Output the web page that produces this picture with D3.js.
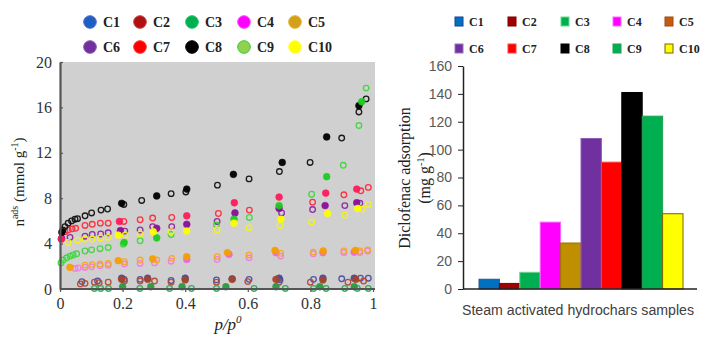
<!DOCTYPE html>
<html>
<head>
<meta charset="utf-8">
<script src="https://cdn.jsdelivr.net/npm/d3@7"></script>
<style>
  body { margin: 0; background: #fff; }
  svg { display: block; }
</style>
</head>
<body>
<div id="chart"></div>
<script>
// ---------------- data ----------------
const SAMPLES = ["C1", "C2", "C3", "C4", "C5", "C6", "C7", "C8", "C9", "C10"];

// isotherm points [p/p0, n_ads, filled?]
const C1 = [[0.07,0.65,0],[0.12,0.7,0],[0.205,0.85,0],[0.256,0.85,0],[0.355,0.75,0],[0.5,0.8,0],[0.604,0.85,0],[0.703,0.8,0],[0.81,0.85,0],[0.9,0.9,0],[0.96,0.95,0],[0.985,0.95,0],
  [0.197,0.95,1],[0.28,0.95,1],[0.4,0.95,1],[0.55,0.9,1],[0.7,0.95,1],[0.84,0.95,1],[0.94,0.95,1]];
const C2 = [[0.065,0.45,0],[0.08,0.5,0],[0.11,0.6,0],[0.125,0.55,0],[0.154,0.6,0],[0.206,0.7,0],[0.256,0.7,0],[0.302,0.7,0],[0.355,0.6,0],[0.5,0.6,0],[0.6,0.65,0],[0.7,0.6,0],[0.8,0.6,0],[0.92,0.6,0],[0.97,0.7,0],
  [0.197,0.85,1],[0.28,0.85,1],[0.4,0.8,1],[0.55,0.85,1],[0.69,0.85,1],[0.84,0.8,1],[0.945,0.85,1]];
const C3 = [[0.11,0.05,0],[0.13,0.05,0],[0.155,0.05,0],[0.255,0.05,0],[0.35,0.05,0],[0.42,0.05,0],[0.5,0.05,0],[0.62,0.05,0],[0.72,0.05,0],[0.81,0.05,0],[0.85,0.05,0],[0.91,0.05,0],[0.95,0.05,0],[0.985,0.05,0],
  [0.2,0.2,1],[0.29,0.2,1],[0.39,0.2,1],[0.53,0.2,1],[0.69,0.2,1],[0.83,0.2,1],[0.94,0.2,1]];
const C4 = [[0.048,1.8,0],[0.058,1.85,0],[0.08,1.9,0],[0.101,1.95,0],[0.128,2.05,0],[0.154,2.1,0],[0.206,2.2,0],[0.256,2.25,0],[0.302,2.3,0],[0.355,2.45,0],[0.502,2.6,0],[0.604,2.75,0],[0.705,2.9,0],[0.809,3.1,0],[0.907,3.2,0],[0.958,3.2,0],[0.983,3.35,0],
  [0.405,2.6,1],[0.54,3.05,1],[0.69,3.2,1],[0.84,3.2,1],[0.94,3.25,1]];
const C5 = [[0.08,2.1,0],[0.103,2.15,0],[0.128,2.2,0],[0.154,2.25,0],[0.206,2.4,0],[0.256,2.55,0],[0.309,2.55,0],[0.357,2.7,0],[0.502,2.85,0],[0.604,3.0,0],[0.705,3.15,0],[0.809,3.25,0],[0.907,3.35,0],[0.958,3.35,0],[0.983,3.45,0],
  [0.032,1.9,1],[0.186,2.5,1],[0.296,2.65,1],[0.405,2.85,1],[0.535,3.2,1],[0.687,3.4,1],[0.841,3.35,1],[0.944,3.4,1]];
const C6 = [[0.032,4.55,0],[0.08,4.65,0],[0.103,4.8,0],[0.13,4.85,0],[0.154,4.95,0],[0.207,5.1,0],[0.256,5.2,0],[0.296,5.5,0],[0.357,5.5,0],[0.502,5.95,0],[0.708,6.7,0],[0.807,7.0,0],[0.91,7.35,0],[0.958,7.55,0],
  [0.005,4.45,1],[0.193,5.15,1],[0.309,5.35,1],[0.405,5.7,1],[0.559,6.7,1],[0.7,7.1,1],[0.847,7.35,1],[0.948,7.6,1]];
const C7 = [[0.016,5.05,0],[0.026,5.2,0],[0.039,5.3,0],[0.05,5.35,0],[0.08,5.6,0],[0.103,5.7,0],[0.129,5.8,0],[0.154,5.8,0],[0.204,5.95,0],[0.256,6.1,0],[0.296,6.25,0],[0.357,6.3,0],[0.506,6.65,0],[0.605,6.95,0],[0.807,7.65,0],[0.907,8.3,0],[0.961,8.65,0],[0.985,8.95,0],
  [0.004,4.4,1],[0.19,5.95,1],[0.405,6.45,1],[0.557,7.6,1],[0.7,8.1,1],[0.849,8.45,1],[0.948,8.8,1]];
const C8 = [[0.009,5.2,0],[0.016,5.5,0],[0.026,5.8,0],[0.037,6.0,0],[0.048,6.15,0],[0.056,6.2,0],[0.08,6.45,0],[0.101,6.7,0],[0.131,6.95,0],[0.152,7.05,0],[0.204,7.45,0],[0.261,7.8,0],[0.355,8.4,0],[0.402,8.55,0],[0.503,9.15,0],[0.604,9.7,0],[0.701,10.35,0],[0.799,11.15,0],[0.9,13.3,0],[0.955,15.6,0],[0.978,16.75,0],
  [0.006,5.0,1],[0.197,7.55,1],[0.309,8.2,1],[0.405,8.8,1],[0.554,10.1,1],[0.71,11.15,1],[0.852,13.4,1],[0.955,16.15,1]];
const C9 = [[0.003,2.3,0],[0.01,2.55,0],[0.021,2.75,0],[0.032,2.9,0],[0.042,3.0,0],[0.053,3.1,0],[0.08,3.35,0],[0.101,3.45,0],[0.128,3.55,0],[0.154,3.65,0],[0.202,3.95,0],[0.256,4.25,0],[0.355,4.8,0],[0.5,5.65,0],[0.605,6.3,0],[0.804,8.35,0],[0.905,10.9,0],[0.955,14.4,0],[0.978,17.7,0],
  [0.205,4.1,1],[0.309,4.5,1],[0.556,6.15,1],[0.7,7.35,1],[0.852,9.9,1],[0.964,16.5,1]];
const C10 = [[0.026,4.1,0],[0.056,4.3,0],[0.08,4.4,0],[0.103,4.4,0],[0.13,4.5,0],[0.154,4.55,0],[0.208,4.75,0],[0.256,4.85,0],[0.355,5.05,0],[0.502,5.2,0],[0.604,5.4,0],[0.703,5.6,0],[0.804,5.9,0],[0.91,6.5,0],[0.966,7.05,0],[0.985,7.45,0],
  [0.186,4.75,1],[0.298,5.05,1],[0.405,5.1,1],[0.556,5.8,1],[0.706,6.15,1],[0.855,6.65,1],[0.951,7.1,1]];
const ISOTHERMS = [C1, C2, C3, C4, C5, C6, C7, C8, C9, C10];

// diclofenac adsorption (mg/g)
const ADSORPTION = [7, 4, 12, 48, 33, 108, 91, 141, 124, 54];

const X_TICKS = [0, 0.2, 0.4, 0.6, 0.8, 1];
const Y_TICKS = [0, 4, 8, 12, 16, 20];
const BAR_TICKS = [0, 20, 40, 60, 80, 100, 120, 140, 160];

// colours
const DOT_COLORS = ["#4a4ea8", "#b04a35", "#2eaa5a", "#f27ae6", "#f5a623", "#8e24a0", "#ff2a3a", "#111111", "#3fd63f", "#f2f21a"];
const DOT_FILL = ["#3a4ea8", "#a8452a", "#2a9a40", "#ee66dd", "#f5a000", "#8a0f9a", "#ff1a5c", "#000000", "#1fcc1f", "#ffff00"];
const LEG1_FILL = ["#1f5fbf", "#b01010", "#00b050", "#ff00ff", "#d4a017", "#7030a0", "#ff0000", "#000000", "#92d050", "#ffff00"];
const LEG1_STROKE = ["#4a6fd0", "#c04040", "#20c060", "#ff40ff", "#e0b030", "#8a50b0", "#ff3030", "#000000", "#33cc33", "#ffff40"];
const BAR_COLORS = ["#0070c0", "#a00000", "#00b050", "#ff00ff", "#bf8f00", "#7030a0", "#ff0000", "#000000", "#00b050", "#ffff00"];
const BAR_STROKE = ["#2f5597", "#7f0000", "#70d090", "#ff66ff", "#9c6f00", "#8e60b8", "#ff4040", "#000000", "#20a050", "#7f6000"];
const LEG2_COLORS = ["#0070c0", "#a00000", "#00b050", "#ff00ff", "#c55a11", "#7030a0", "#ff0000", "#000000", "#00b050", "#ffff00"];
const LEG2_STROKE = ["#1f3f8f", "#7f0000", "#66dd88", "#ff66ff", "#a04a10", "#9a70c0", "#ff4040", "#000000", "#20a050", "#7f6000"];

// ---------------- frame ----------------
const W = 701, H = 338;
const svg = d3.select("#chart").append("svg").attr("width", W).attr("height", H);

const SERIF = "'Liberation Serif', 'Times New Roman', serif";
const SANS = "'Liberation Sans', Arial, sans-serif";

// ---------------- left: isotherms ----------------
const X_SCALE = d3.scaleLinear().domain([0, 1]).range([60, 373]);
const Y_SCALE = d3.scaleLinear().domain([0, 20]).range([289, 62]);

svg.append("rect")
  .attr("x", X_SCALE(0)).attr("y", Y_SCALE(20))
  .attr("width", X_SCALE(1) - X_SCALE(0) + 2)
  .attr("height", Y_SCALE(0) - Y_SCALE(20))
  .attr("fill", "#d1d0d1");

ISOTHERMS.forEach((pts, i) => {
  const g = svg.append("g");
  g.selectAll("circle")
    .data(pts)
    .enter().append("circle")
      .attr("cx", d => X_SCALE(d[0]))
      .attr("cy", d => Y_SCALE(d[1]))
      .attr("r", d => d[2] ? 3.4 : 2.8)
      .attr("fill", d => d[2] ? DOT_FILL[i] : "none")
      .attr("stroke", d => d[2] ? DOT_FILL[i] : DOT_COLORS[i])
      .attr("stroke-width", d => d[2] ? 0.6 : 1.3)
      .attr("opacity", 0.95);
});

const xAxisL = svg.append("g")
  .attr("transform", "translate(0," + Y_SCALE(0) + ")")
  .call(d3.axisBottom(X_SCALE).tickValues(X_TICKS).tickFormat(d3.format("")).tickSizeInner(3).tickSizeOuter(0).tickPadding(6));
const yAxisL = svg.append("g")
  .attr("transform", "translate(" + X_SCALE(0) + ",0)")
  .call(d3.axisLeft(Y_SCALE).tickValues(Y_TICKS).tickSizeInner(-3).tickSizeOuter(0).tickPadding(8));
[xAxisL, yAxisL].forEach(a => {
  a.select(".domain").attr("stroke", "#555").attr("stroke-width", 2.2);
  a.selectAll(".tick line").attr("stroke", "#555").attr("stroke-width", 1.2);
  a.selectAll("text").attr("font-family", SERIF).attr("font-size", 16).attr("fill", "#333");
});
xAxisL.select(".domain").attr("d", "M" + X_SCALE(0) + ",0H" + (X_SCALE(1) + 2));

// left y label
const yl = svg.append("text")
  .attr("transform", "translate(24,182) rotate(-90)")
  .attr("text-anchor", "middle")
  .attr("font-family", SERIF).attr("font-size", 15).attr("fill", "#222");
yl.append("tspan").text("n");
yl.append("tspan").attr("font-size", 10).attr("dy", -6).text("ads");
yl.append("tspan").attr("dy", 6).text(" (mmol g");
yl.append("tspan").attr("font-size", 10).attr("dy", -6).text("-1");
yl.append("tspan").attr("dy", 6).text(")");

// left x label
const xl = svg.append("text")
  .attr("x", 228).attr("y", 330)
  .attr("text-anchor", "middle")
  .attr("font-family", SERIF).attr("font-size", 17).attr("font-style", "italic").attr("fill", "#222");
xl.append("tspan").text("p/p");
xl.append("tspan").attr("font-size", 11).attr("dy", -7).text("0");

// left legend
const LEG1_X = [90, 140, 192, 244, 295];
const LEG1_Y = [22, 47];
const leg1 = svg.append("g").selectAll("g")
  .data(SAMPLES)
  .enter().append("g")
    .attr("transform", (d, i) => "translate(" + LEG1_X[i % 5] + "," + LEG1_Y[Math.floor(i / 5)] + ")");
leg1.append("circle")
  .attr("r", 6.3)
  .attr("fill", (d, i) => LEG1_FILL[i])
  .attr("stroke", (d, i) => LEG1_STROKE[i])
  .attr("stroke-width", 1);
leg1.append("text")
  .attr("x", 13).attr("y", 5)
  .attr("font-family", SERIF).attr("font-weight", "bold").attr("font-size", 14).attr("fill", "#222")
  .text(d => d);

// ---------------- right: bars ----------------
const BAR_X = d3.scaleBand().domain(SAMPLES).range([479, 683]).padding(0);
const BAR_Y = d3.scaleLinear().domain([0, 160]).range([289, 66]);

svg.append("g").selectAll("rect")
  .data(ADSORPTION)
  .enter().append("rect")
    .attr("x", (d, i) => BAR_X(SAMPLES[i]))
    .attr("y", d => BAR_Y(d))
    .attr("width", BAR_X.bandwidth())
    .attr("height", d => BAR_Y(0) - BAR_Y(d))
    .attr("fill", (d, i) => BAR_COLORS[i])
    .attr("stroke", (d, i) => BAR_STROKE[i])
    .attr("stroke-width", 1);

const yAxisR = svg.append("g")
  .attr("transform", "translate(463,0)")
  .call(d3.axisLeft(BAR_Y).tickValues(BAR_TICKS).tickSizeInner(5).tickSizeOuter(0).tickPadding(6));
yAxisR.select(".domain").attr("stroke", "#222").attr("stroke-width", 1.5);
yAxisR.selectAll(".tick line").attr("stroke", "#222");
yAxisR.selectAll("text").attr("font-family", SANS).attr("font-size", 14).attr("fill", "#595959");

svg.append("line")
  .attr("x1", 463).attr("x2", 697)
  .attr("y1", BAR_Y(0)).attr("y2", BAR_Y(0))
  .attr("stroke", "#222").attr("stroke-width", 1.5);

svg.append("text")
  .attr("x", 578).attr("y", 315)
  .attr("text-anchor", "middle")
  .attr("font-family", SANS).attr("font-size", 14).attr("fill", "#404040")
  .attr("textLength", 232).attr("lengthAdjust", "spacingAndGlyphs")
  .text("Steam activated hydrochars samples");

const yr = svg.append("text")
  .attr("transform", "translate(0,178) rotate(-90)")
  .attr("text-anchor", "middle")
  .attr("font-family", SERIF).attr("font-size", 16).attr("fill", "#222");
yr.append("tspan").attr("x", 0).attr("y", 410).text("Diclofenac adsorption");
const yr2 = yr.append("tspan").attr("x", 0).attr("y", 430);
yr2.append("tspan").text("(mg g");
yr2.append("tspan").attr("font-size", 10).attr("dy", -6).text("-1");
yr2.append("tspan").attr("dy", 6).text(")");

// right legend
const LEG2_X = [455, 508, 561, 613, 665];
const LEG2_Y = [17, 44];
const leg2 = svg.append("g").selectAll("g")
  .data(SAMPLES)
  .enter().append("g")
    .attr("transform", (d, i) => "translate(" + LEG2_X[i % 5] + "," + LEG2_Y[Math.floor(i / 5)] + ")");
leg2.append("rect")
  .attr("width", 8).attr("height", 9)
  .attr("fill", (d, i) => LEG2_COLORS[i])
  .attr("stroke", (d, i) => LEG2_STROKE[i])
  .attr("stroke-width", 1);
leg2.append("text")
  .attr("x", 14).attr("y", 9)
  .attr("font-family", SERIF).attr("font-weight", "bold").attr("font-size", 12).attr("fill", "#222")
  .text(d => d);
</script>
</body>
</html>
